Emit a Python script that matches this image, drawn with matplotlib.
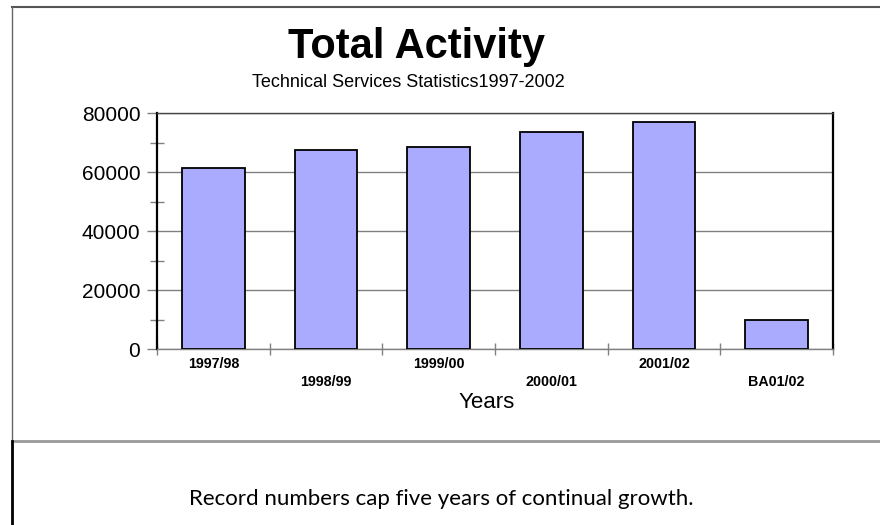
import numpy as np
import matplotlib
matplotlib.use("Agg")
import matplotlib.pyplot as plt
from matplotlib.lines import Line2D

# data
years = ["1997/98", "1998/99", "1999/00", "2000/01", "2001/02", "BA01/02"]
activity = [61300, 67500, 68700, 73500, 77200, 9800]
y_ticks = [0, 20000, 40000, 60000, 80000]
y_minor = [10000, 30000, 50000, 70000]

W, H = 880, 525
plt.rcParams["font.family"] = ["Liberation Sans", "DejaVu Sans"]

fig = plt.figure(figsize=(W / 100, H / 100), dpi=100)
fig.patch.set_facecolor("white")


def fx(px):
    return px / W


def fy(py):
    return 1 - py / H


# plot area
ax = fig.add_axes([fx(157), fy(349.3), fx(833) - fx(157), fy(113.3) - fy(349.3)])
x = np.arange(len(years))
ax.bar(x, activity, width=0.556, color="#aaaaff", edgecolor="black", linewidth=1.3, zorder=3)

ax.set_xlim(-0.5, len(years) - 0.5)
ax.set_ylim(0, 80000)

ax.set_yticks(y_ticks)
ax.set_yticklabels([str(v) for v in y_ticks], fontsize=15)
ax.set_yticks(y_minor, minor=True)
ax.yaxis.grid(True, color="#808080", linewidth=1, zorder=1)
ax.tick_params(axis="y", which="major", direction="out", length=7, width=1,
               color="#808080", pad=5)
ax.tick_params(axis="y", which="minor", direction="inout", length=10, width=1,
               color="#808080")

# category labels staggered on two rows
ax.set_xticks(x)
ax.set_xticklabels(years, fontsize=10.3, fontweight="bold")
ax.tick_params(axis="x", which="major", length=0)
for i, t in enumerate(ax.xaxis.get_major_ticks()):
    t.set_pad(5.5 if i % 2 == 0 else 18.5)
ax.set_xticks(np.arange(-0.5, len(years)), minor=True)
ax.tick_params(axis="x", which="minor", direction="inout", length=8, width=1,
               color="#808080")

ax.spines["left"].set_color("black")
ax.spines["left"].set_linewidth(1.6)
ax.spines["right"].set_color("black")
ax.spines["right"].set_linewidth(1.6)
ax.spines["top"].set_color("#444444")
ax.spines["top"].set_linewidth(1)
ax.spines["bottom"].set_color("#808080")
ax.spines["bottom"].set_linewidth(1)

# titles
fig.text(fx(416), fy(58), "Total Activity", fontsize=30, fontweight="bold",
         ha="center", va="baseline")
fig.text(fx(408.5), fy(87), "Technical Services Statistics1997-2002", fontsize=13,
         ha="center", va="baseline")
fig.text(fx(487), fy(402), "Years", fontsize=16, ha="center", va="center")

# caption below the chart
fig.text(fx(441), fy(499), "Record numbers cap five years of continual growth.",
         fontsize=16, family=["Lato", "DejaVu Sans"], ha="center", va="center")

# frame lines
fig.add_artist(Line2D([fx(12), fx(880)], [fy(7), fy(7)], color="#555555", lw=1.5))
fig.add_artist(Line2D([fx(12), fx(12)], [fy(7), fy(440)], color="#666666", lw=1))
fig.add_artist(Line2D([fx(12), fx(880)], [fy(440.5), fy(440.5)], color="#999999", lw=2))
fig.add_artist(Line2D([fx(12), fx(12)], [fy(441), fy(525)], color="black", lw=2))

fig.savefig("out.png", dpi=100)
